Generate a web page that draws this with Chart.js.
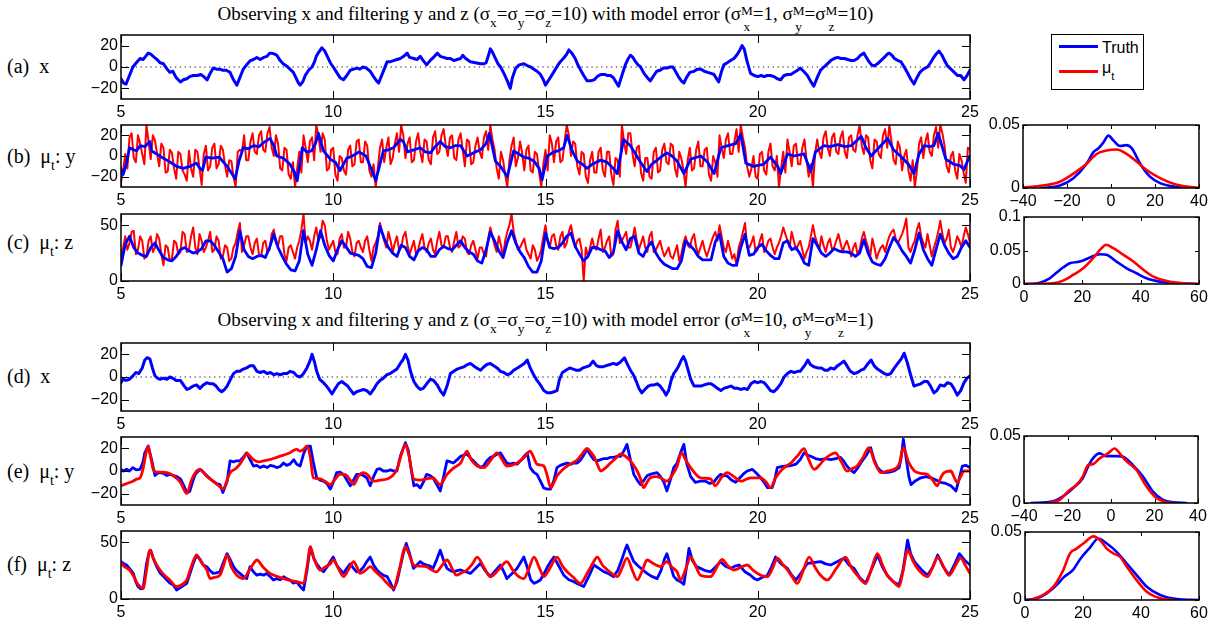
<!DOCTYPE html>
<html>
<head>
<meta charset="utf-8">
<script src="https://cdn.jsdelivr.net/npm/chart.js@4.4.1/dist/chart.umd.min.js"></script>
<style>
  html, body { margin: 0; padding: 0; background: #fff; }
  body { position: relative; width: 1213px; height: 627px; overflow: hidden; font-family: "Liberation Serif", "Times New Roman", serif; color: #000; }
  canvas { position: absolute; }
  .title { position: absolute; left: 121px; width: 849px; text-align: center; font-size: 19px; line-height: 22px; white-space: nowrap; }
  .lab { position: absolute; left: 7px; font-size: 20px; line-height: 24px; white-space: pre; }
  .sb { font-size: 70%; vertical-align: -7px; line-height: 0; }
  .ss { display: inline-flex; flex-direction: column; font-size: 70%; line-height: 1.2; vertical-align: 5px; }
  #lgBox { position: absolute; left: 1051px; top: 34px; width: 93px; height: 56px; box-sizing: border-box; border: 1px solid #000; background: #fff; }
  .lgLine { position: absolute; left: 1059px; width: 39px; height: 3px; }
  .lgText { position: absolute; left: 1102px; font-family: "Liberation Sans", Arial, sans-serif; font-size: 16px; line-height: 18px; }
</style>
</head>
<body>

<div class="title" style="top:3px">Observing x and filtering y and z (σ<span class="sb">x</span>=σ<span class="sb">y</span>=σ<span class="sb">z</span>=10) with model error (σ<span class="ss"><span>M</span><span>x</span></span>=1, σ<span class="ss"><span>M</span><span>y</span></span>=σ<span class="ss"><span>M</span><span>z</span></span>=10)</div>
<div class="title" style="top:309px">Observing x and filtering y and z (σ<span class="sb">x</span>=σ<span class="sb">y</span>=σ<span class="sb">z</span>=10) with model error (σ<span class="ss"><span>M</span><span>x</span></span>=10, σ<span class="ss"><span>M</span><span>y</span></span>=σ<span class="ss"><span>M</span><span>z</span></span>=1)</div>

<div class="lab" style="top:54px">(a)  x</div>
<div class="lab" style="top:144px">(b)  μ<span class="sb">t</span>: y</div>
<div class="lab" style="top:230px">(c)  μ<span class="sb">t</span>: z</div>
<div class="lab" style="top:364px">(d)  x</div>
<div class="lab" style="top:459px">(e)  μ<span class="sb">t</span>: y</div>
<div class="lab" style="top:552px">(f)  μ<span class="sb">t</span>: z</div>

<div id="lgBox"></div>
<div class="lgLine" style="top:45px;background:#0000ff"></div>
<div class="lgLine" style="top:70px;background:#ff0000"></div>
<div class="lgText" style="top:39px">Truth</div>
<div class="lgText" style="top:59px">μ<span class="sb">t</span></div>

<script>
// ---------- tick values ----------
const timeTicks = [5, 10, 15, 20, 25];
const xyTicks = [-20, 0, 20];
const zTicks = [0, 50];
const densYTicksY = [0, 0.05];
const densXTicksY = [-40, -20, 0, 20, 40];
const densXTicksZ = [0, 20, 40, 60];
const densYTicksZ1 = [0, 0.05, 0.1];
const densYTicksZ2 = [0, 0.05];

// ---------- run 1: model error sigma_x^M = 1, sigma_y^M = sigma_z^M = 10 ----------
// truth x, [time, value]
const run1TruthX = [[5.0,-11],[5.06,-15],[5.12,-16],[5.2,-8],[5.28,0],[5.36,4],[5.45,8],[5.52,7],[5.58,10],[5.64,13],[5.7,12],[5.76,10],[5.85,7],[5.92,4],[6.0,3],[6.07,-1],[6.15,-5],[6.22,-4],[6.3,-10],[6.4,-14],[6.47,-12],[6.55,-11],[6.62,-9],[6.7,-8],[6.8,-8],[6.88,-7],[6.95,-9],[7.03,-12],[7.1,-6],[7.17,-1],[7.25,-2],[7.32,-2],[7.4,-3],[7.48,-3],[7.57,-5],[7.65,-12],[7.73,-17],[7.8,-10],[7.88,-2],[7.98,3],[8.05,6],[8.12,7],[8.2,9],[8.28,7],[8.36,9],[8.44,10],[8.5,13],[8.55,13],[8.62,12],[8.67,11],[8.75,6],[8.82,3],[8.9,1],[8.98,-2],[9.06,-5],[9.12,-10],[9.18,-15],[9.22,-17],[9.28,-14],[9.34,-8],[9.42,-3],[9.5,0],[9.56,5],[9.6,10],[9.66,14],[9.73,18],[9.8,15],[9.86,10],[9.93,4],[10.0,0],[10.08,-5],[10.16,-10],[10.24,-12],[10.32,-8],[10.4,-3],[10.48,-2],[10.56,-1],[10.63,-2],[10.7,0],[10.78,-1],[10.87,-4],[10.95,-9],[11.02,-13],[11.07,-15],[11.12,-10],[11.2,-2],[11.27,5],[11.35,5],[11.42,6],[11.5,7],[11.58,8],[11.66,10],[11.74,13],[11.8,9],[11.9,8],[11.97,7],[12.05,10],[12.12,6],[12.2,2],[12.28,6],[12.36,9],[12.45,13],[12.52,10],[12.6,9],[12.68,8],[12.76,8],[12.84,6],[12.92,7],[13.0,8],[13.05,11],[13.12,8],[13.23,5],[13.35,4],[13.47,3],[13.55,3],[13.6,4],[13.65,10],[13.7,17],[13.75,14],[13.82,8],[13.88,3],[13.94,0],[14.02,-6],[14.1,-13],[14.17,-20],[14.22,-10],[14.3,-1],[14.38,2],[14.49,3],[14.58,1],[14.65,0],[14.72,-2],[14.8,-4],[14.88,-7],[14.95,-12],[15.0,-17],[15.08,-12],[15.19,-5],[15.28,1],[15.35,5],[15.42,8],[15.5,12],[15.55,16],[15.62,13],[15.7,8],[15.75,3],[15.83,-3],[15.9,-8],[15.98,-13],[16.06,-13],[16.15,-12],[16.22,-9],[16.3,-7],[16.4,-7],[16.46,-8],[16.53,-8],[16.6,-10],[16.66,-14],[16.72,-18],[16.8,-8],[16.88,2],[16.95,8],[17.0,11],[17.06,9],[17.12,5],[17.18,2],[17.24,0],[17.32,-6],[17.4,-10],[17.47,-13],[17.55,-8],[17.62,-4],[17.7,-3],[17.78,-1],[17.86,-1],[17.93,0],[18.0,0],[18.06,-4],[18.13,-9],[18.2,-13],[18.26,-15],[18.32,-10],[18.4,-5],[18.5,-4],[18.58,-2],[18.66,-2],[18.74,-4],[18.82,-5],[18.9,-6],[18.97,-7],[19.03,-11],[19.08,-14],[19.14,-5],[19.2,2],[19.28,4],[19.36,6],[19.44,8],[19.52,12],[19.58,16],[19.63,20],[19.68,17],[19.75,5],[19.83,-6],[19.92,-8],[20.0,-9],[20.08,-8],[20.15,-9],[20.22,-8],[20.3,-8],[20.38,-9],[20.46,-11],[20.54,-12],[20.62,-8],[20.7,-7],[20.78,-7],[20.86,-5],[20.94,-3],[21.0,-1],[21.08,-4],[21.17,-8],[21.24,-13],[21.32,-18],[21.4,-10],[21.48,-3],[21.56,0],[21.64,3],[21.72,6],[21.8,8],[21.88,9],[21.96,8],[22.04,8],[22.12,7],[22.2,6],[22.27,6],[22.35,8],[22.42,11],[22.5,13],[22.56,9],[22.62,5],[22.68,2],[22.74,1],[22.82,3],[22.9,6],[22.98,9],[23.05,12],[23.1,13],[23.16,11],[23.22,8],[23.3,6],[23.37,5],[23.45,0],[23.52,-5],[23.6,-11],[23.68,-16],[23.75,-10],[23.82,-5],[23.9,-2],[24.0,0],[24.07,4],[24.13,8],[24.2,12],[24.27,15],[24.34,11],[24.4,6],[24.47,1],[24.55,-2],[24.63,-5],[24.71,-8],[24.78,-8],[24.86,-12],[24.93,-8],[25.0,-3]];

// truth y, [time, value]
const run1TruthY = [[5.0,-12],[5.05,-18],[5.13,-7],[5.2,8],[5.3,6],[5.37,5],[5.45,10],[5.56,9],[5.68,14],[5.72,5],[5.84,2],[5.95,-1],[6.08,-4],[6.2,-7],[6.31,-10],[6.47,-12],[6.62,-10],[6.78,-7],[6.86,-12],[6.92,-14],[7.0,-1],[7.15,-2],[7.31,-1],[7.5,-10],[7.69,-22],[7.78,-5],[7.88,8],[8.0,7],[8.12,10],[8.25,9],[8.36,13],[8.51,17],[8.6,10],[8.67,0],[8.82,-2],[8.98,-8],[9.08,-15],[9.15,-24],[9.27,8],[9.37,4],[9.49,5],[9.58,12],[9.65,22],[9.77,5],[9.93,-3],[10.05,-6],[10.16,-14],[10.32,-2],[10.45,0],[10.61,4],[10.77,0],[10.92,-15],[11.0,-24],[11.18,5],[11.3,6],[11.42,8],[11.58,16],[11.65,14],[11.75,4],[11.82,5],[11.9,6],[12.05,8],[12.17,4],[12.29,3],[12.4,9],[12.52,14],[12.64,9],[12.76,8],[12.88,10],[13.0,10],[13.15,0],[13.3,3],[13.47,6],[13.6,12],[13.68,22],[13.82,-5],[13.94,-10],[14.1,-20],[14.25,5],[14.37,2],[14.49,-1],[14.6,-2],[14.73,-5],[14.85,-12],[14.92,-23],[15.04,0],[15.2,4],[15.3,5],[15.43,8],[15.51,20],[15.63,5],[15.75,-5],[15.87,-8],[15.98,-12],[16.1,-8],[16.3,-4],[16.45,-6],[16.6,-12],[16.69,-17],[16.84,16],[17.0,10],[17.12,2],[17.24,-6],[17.39,-15],[17.5,-8],[17.63,-4],[17.75,0],[17.86,3],[17.98,0],[18.1,-5],[18.26,-17],[18.42,-3],[18.58,-1],[18.66,0],[18.82,-6],[18.97,-17],[19.13,8],[19.3,10],[19.48,12],[19.6,21],[19.72,-7],[19.9,-10],[20.0,-9],[20.14,-8],[20.3,-1],[20.47,-10],[20.54,-17],[20.7,2],[20.85,0],[21.09,2],[21.25,-15],[21.36,4],[21.56,10],[21.7,9],[21.89,11],[22.05,9],[22.2,10],[22.44,19],[22.55,8],[22.67,0],[22.85,8],[23.06,17],[23.2,6],[23.36,0],[23.55,-8],[23.68,-17],[23.8,2],[23.92,10],[24.05,9],[24.15,10],[24.25,22],[24.43,-3],[24.62,-8],[24.75,-9],[24.86,-13],[24.95,-4],[25.0,0]];

// filter mean for y at t = 5.0, 5.1, ..., 25.0
const run1MuY = [
  -25, 2, 18, -2, 20, 2, 30, -3, 15, -10,
  8, -15, 3, -22, 2, -18, 5, -20, 4, -28,
  10, -10, 12, -8, 6, -20, -5, -30, 6, 20,
  -4, 22, 2, 24, 4, 28, 0, 12, -14, 6,
  -22, -30, 4, 20, -6, 18, 30, 4, 16, -12,
  8, -24, -2, -18, 10, -8, 16, -6, 10, -20,
  -30, 8, -6, 18, -2, 22, 30, -2, 18, -4,
  22, -6, 14, -8, 24, 4, 26, 0, 20, -4,
  22, -10, 14, -6, 18, -2, 24, 30, 6, -22,
  -4, -30, 10, -10, 14, -14, 10, -16, 2, -30,
  6, 20, -6, 18, -4, 30, 0, 12, -18, 2,
  -26, 4, -16, 8, -20, 4, -28, -4, 30, 2,
  22, -10, 10, -24, -2, -22, 8, -14, 12, -8,
  10, -20, -2, -30, 8, -12, 14, -10, 8, -24,
  -6, 20, -2, 22, 2, 26, 30, 8, -20, 0,
  -22, 4, -18, 12, -14, -30, 4, 16, -10, 12,
  -8, 16, -20, -30, 16, -2, 24, 0, 22, 2,
  24, -2, 20, 4, 30, 2, 18, -12, 14, -2,
  26, 30, -4, 14, -14, 6, -24, -30, 12, -2,
  22, 0, 28, 30, 10, -16, 4, -22, -4, -26,
  6
];
// filter mean for y at the half steps t = 5.05, 5.15, ..., 24.95
const run1MuYHalf = [
  -14, -12, 22, -6, 12, -8, 14, 20, 2, 12,
  -16, 6, -12, 4, -14, -24, -12, 6, -12, 2,
  -14, 8, -12, 10, -9, -4, -20, 4, 4, -4,
  14, 4, 20, 6, 22, 8, 20, -12, 8, -18,
  -6, -12, -16, 8, 14, -4, 20, 22, -14, 6,
  -18, 0, -14, 6, -10, 14, -6, 14, -14, -8,
  -12, 16, 8, -8, 12, 4, 20, 12, -6, 14,
  4, 16, -4, 18, 2, 20, 10, 18, -2, 16,
  6, 16, -8, 10, 4, 18, 6, 16, -12, 4,
  -18, -4, 18, -2, 3, 6, -14, 4, -16, -8,
  -14, 12, 14, -6, 14, 20, 14, -10, 4, -20,
  -4, -16, 4, -14, 4, -18, -2, -20, 14, 22,
  2, 8, -16, -2, -20, 4, -16, 6, -6, 12,
  -12, 4, -14, -4, -14, 6, -10, 6, -18, 0,
  -20, 8, 16, 2, 14, 4, 18, -10, -12, -20,
  2, -14, 4, -10, 0, -12, -16, 4, 10, -8,
  8, -4, -8, 2, 4, 18, 8, 18, 4, 18,
  4, 18, 6, 20, 10, 20, -4, 16, 2, 20,
  8, 14, -8, 8, 0, -14, -4, -14, 18, 14,
  4, 20, 8, 22, -10, 0, -14, 2, -16, 8
];

// truth z at t = 5.0, 5.1, ..., 25.0
const run1TruthZ = [
  14, 33, 40, 30, 25, 23, 22, 30, 34, 27,
  21, 19, 18, 22, 28, 30, 27, 25, 26, 29,
  36, 36, 32, 26, 20, 8, 11, 22, 45, 28,
  22, 20, 22, 23, 21, 30, 42, 30, 22, 15,
  10, 9, 18, 45, 24, 14, 28, 45, 32, 23,
  18, 28, 36, 31, 25, 24, 23, 20, 13, 12,
  25, 49, 38, 30, 25, 22, 32, 30, 22, 19,
  27, 30, 28, 22, 22, 28, 31, 29, 28, 32,
  36, 30, 26, 24, 18, 16, 28, 44, 36, 27,
  21, 35, 45, 34, 26, 21, 13, 8, 8, 18,
  43, 30, 29, 30, 34, 40, 43, 31, 24, 18,
  22, 30, 30, 28, 27, 21, 26, 45, 35, 28,
  38, 40, 25, 22, 30, 35, 25, 19, 15, 13,
  11, 11, 18, 36, 32, 28, 22, 19, 19, 19,
  35, 42, 22, 16, 14, 14, 30, 42, 23, 24,
  30, 33, 27, 23, 20, 20, 34, 36, 28, 30,
  24, 16, 14, 38, 32, 25, 22, 25, 29, 27,
  26, 26, 25, 22, 25, 37, 25, 17, 15, 14,
  20, 30, 39, 34, 27, 22, 16, 28, 43, 28,
  20, 14, 28, 42, 32, 25, 20, 22, 30, 36,
  30
];

// filter mean for z at t = 5.0, 5.1, ..., 25.0
const run1MuZ = [
  22, 40, 34, 45, 28, 36, 22, 40, 30, 38,
  14, 30, 20, 34, 26, 42, 28, 48, 24, 36,
  30, 44, 28, 36, 22, 30, 20, 34, 52, 32,
  40, 24, 38, 22, 36, 28, 46, 32, 40, 18,
  32, 20, 36, 60, 40, 28, 48, 40, 50, 28,
  36, 24, 42, 30, 38, 22, 36, 26, 40, 18,
  34, 52, 36, 44, 26, 40, 30, 44, 24, 36,
  28, 42, 26, 38, 24, 44, 30, 40, 26, 44,
  32, 38, 24, 36, 20, 30, 22, 48, 32, 40,
  22, 44, 60, 36, 30, 38, 24, 32, 18, 28,
  50, 30, 42, 28, 44, 34, 50, 30, 38, 0,
  22, 38, 28, 46, 30, 40, 24, 54, 36, 44,
  30, 48, 28, 40, 26, 44, 28, 36, 22, 30,
  20, 32, 24, 40, 30, 42, 24, 36, 22, 34,
  44, 50, 30, 36, 20, 14, 36, 52, 30, 40,
  28, 42, 30, 38, 24, 34, 48, 36, 44, 28,
  36, 20, 30, 50, 34, 40, 26, 38, 30, 42,
  26, 36, 22, 34, 28, 44, 30, 38, 20, 30,
  26, 40, 46, 34, 42, 56, 26, 36, 52, 34,
  42, 22, 36, 54, 34, 46, 26, 40, 30, 48,
  34
];
// filter mean for z at the half steps t = 5.05, 5.15, ..., 24.95
const run1MuZHalf = [
  30, 28, 44, 24, 40, 20, 36, 26, 42, 24,
  32, 18, 36, 24, 44, 26, 40, 30, 42, 26,
  36, 26, 40, 20, 32, 18, 30, 44, 26, 40,
  30, 34, 24, 34, 26, 42, 34, 40, 24, 30,
  26, 30, 46, 34, 36, 40, 36, 54, 36, 32,
  26, 38, 30, 44, 26, 34, 30, 36, 28, 30,
  40, 44, 30, 36, 34, 28, 40, 32, 30, 24,
  36, 30, 34, 28, 36, 32, 40, 30, 36, 30,
  40, 26, 32, 28, 30, 24, 38, 40, 26, 32,
  36, 50, 44, 28, 34, 28, 20, 28, 22, 40,
  36, 40, 32, 40, 30, 44, 40, 36, 28, 30,
  30, 30, 38, 26, 36, 22, 46, 34, 40, 30,
  38, 36, 34, 30, 40, 26, 32, 28, 26, 22,
  26, 18, 34, 32, 38, 30, 30, 28, 28, 40,
  36, 40, 26, 28, 24, 30, 44, 30, 34, 26,
  36, 26, 36, 30, 30, 40, 42, 30, 36, 32,
  28, 26, 40, 40, 28, 32, 34, 28, 36, 34,
  32, 30, 30, 24, 38, 36, 22, 30, 26, 32,
  34, 44, 38, 38, 48, 30, 32, 46, 40, 30,
  32, 30, 44, 42, 38, 30, 32, 36, 40, 42
];

// densities, [value, density]
const run1DensTruthY = [[-31.5,0],[-23.2,0.002],[-17.1,0.0078],[-11,0.0195],[-8,0.0285],[-5.7,0.0315],[-3.5,0.036],[-1.2,0.0416],[1.1,0.0377],[4.1,0.0333],[7.1,0.034],[9.4,0.0316],[13.2,0.0195],[17.7,0.009],[22.3,0.0039],[29.8,0.0008],[37.4,0]];
const run1DensMuY = [[-40,0.0003],[-30.9,0.002],[-23.3,0.005],[-15.8,0.013],[-11,0.0195],[-6.5,0.027],[-2,0.0297],[2.6,0.0305],[7.1,0.027],[11.7,0.0208],[16.2,0.0143],[22.3,0.0078],[29.8,0.0026],[40,0.0002]];
const run1DensTruthZ = [[0,0],[5.4,0.002],[8.8,0.0085],[12.3,0.021],[15.7,0.031],[19.2,0.0335],[22.6,0.0395],[26.0,0.0445],[28.3,0.0435],[31.7,0.0335],[35.2,0.0235],[38.6,0.016],[42,0.0085],[46.6,0.0035],[52.3,0.001],[60,0]];
const run1DensMuZ = [[0,0],[9.9,0.001],[13.4,0.005],[16.8,0.0135],[20.3,0.0235],[23.7,0.0385],[26.6,0.0535],[28.1,0.0585],[30.6,0.0535],[34.1,0.0435],[37.5,0.0335],[41,0.021],[44.4,0.011],[49,0.0045],[54.7,0.001],[60,0]];

// ---------- run 2: model error sigma_x^M = 10, sigma_y^M = sigma_z^M = 1 ----------
const run2TruthX = [[5.0,-5],[5.05,-2],[5.12,-3],[5.2,-2],[5.28,1],[5.35,4],[5.42,3],[5.5,8],[5.56,15],[5.62,17],[5.68,16],[5.74,8],[5.8,1],[5.86,-1],[5.92,-2],[6.0,-1],[6.08,-2],[6.15,0],[6.22,-1],[6.3,-3],[6.4,-3],[6.47,-7],[6.55,-11],[6.62,-10],[6.7,-8],[6.78,-7],[6.86,-10],[6.94,-7],[7.02,-5],[7.1,-6],[7.17,-6],[7.24,-8],[7.3,-11],[7.37,-13],[7.44,-11],[7.5,-8],[7.58,-2],[7.65,3],[7.72,5],[7.8,5],[7.88,7],[7.96,8],[8.04,10],[8.12,10],[8.2,5],[8.28,4],[8.36,5],[8.44,3],[8.52,4],[8.6,2],[8.67,3],[8.75,2],[8.83,3],[8.91,3],[8.98,5],[9.07,4],[9.14,1],[9.22,0],[9.3,3],[9.38,8],[9.45,14],[9.5,20],[9.56,13],[9.61,5],[9.68,-2],[9.77,-5],[9.84,-8],[9.9,-11],[9.97,-15],[10.05,-10],[10.12,-6],[10.2,-4],[10.27,-6],[10.34,-8],[10.42,-12],[10.48,-15],[10.55,-13],[10.63,-12],[10.71,-11],[10.79,-12],[10.87,-15],[10.95,-11],[11.03,-6],[11.1,-3],[11.18,-1],[11.26,2],[11.34,3],[11.42,5],[11.5,7],[11.58,12],[11.64,15],[11.7,20],[11.76,15],[11.82,5],[11.9,-4],[11.97,-8],[12.05,-11],[12.12,-10],[12.2,-6],[12.29,-2],[12.36,-3],[12.45,-7],[12.52,-12],[12.6,-16],[12.68,-8],[12.76,3],[12.84,5],[12.92,7],[13.0,8],[13.08,9],[13.16,11],[13.23,12],[13.3,10],[13.38,8],[13.47,6],[13.55,9],[13.62,11],[13.7,12],[13.78,10],[13.86,8],[13.94,5],[14.02,4],[14.1,2],[14.17,3],[14.25,6],[14.34,8],[14.42,10],[14.5,12],[14.57,15],[14.64,8],[14.72,2],[14.8,-3],[14.88,-7],[14.96,-12],[15.04,-14],[15.12,-14],[15.2,-13],[15.27,-12],[15.33,-2],[15.4,4],[15.48,6],[15.57,8],[15.65,7],[15.72,6],[15.8,6],[15.88,8],[15.96,9],[16.04,10],[16.12,14],[16.2,10],[16.27,9],[16.35,9],[16.43,10],[16.52,11],[16.6,12],[16.68,11],[16.76,13],[16.86,17],[16.92,12],[17.0,6],[17.07,2],[17.14,-4],[17.2,-10],[17.27,-14],[17.34,-11],[17.42,-8],[17.5,-7],[17.56,-7],[17.63,-6],[17.7,-8],[17.78,-12],[17.84,-16],[17.9,-12],[17.96,-3],[18.02,3],[18.08,6],[18.14,10],[18.2,15],[18.25,18],[18.3,14],[18.36,6],[18.42,-2],[18.5,-8],[18.58,-8],[18.66,-8],[18.74,-7],[18.82,-6],[18.9,-6],[18.98,-8],[19.05,-10],[19.13,-12],[19.2,-10],[19.29,-9],[19.37,-8],[19.45,-10],[19.53,-10],[19.6,-11],[19.68,-10],[19.76,-11],[19.84,-6],[19.92,-4],[20.0,-5],[20.08,-4],[20.15,-5],[20.22,-8],[20.3,-12],[20.38,-13],[20.46,-10],[20.54,-6],[20.62,0],[20.7,3],[20.78,5],[20.86,4],[20.94,5],[21.0,5],[21.06,8],[21.12,11],[21.18,15],[21.24,11],[21.32,9],[21.41,8],[21.5,8],[21.58,6],[21.65,6],[21.72,8],[21.8,7],[21.88,10],[21.96,12],[22.03,14],[22.1,10],[22.18,5],[22.27,3],[22.35,4],[22.43,6],[22.5,7],[22.58,11],[22.67,15],[22.74,10],[22.82,7],[22.9,5],[22.98,3],[23.06,2],[23.13,3],[23.22,8],[23.3,12],[23.38,16],[23.45,21],[23.52,13],[23.6,2],[23.68,-8],[23.76,-7],[23.84,-6],[23.92,-4],[24.0,-4],[24.07,-8],[24.15,-14],[24.22,-12],[24.3,-7],[24.39,-8],[24.47,-5],[24.55,-6],[24.62,-10],[24.7,-16],[24.78,-12],[24.86,-5],[24.93,-1],[25.0,1]];

const run2TruthY = [[5.0,1.5],[5.06,0],[5.13,1.5],[5.2,0],[5.28,3],[5.36,1],[5.45,1.5],[5.52,8],[5.56,16],[5.64,22],[5.72,10],[5.8,-4],[5.86,-2],[5.92,-1.5],[6.0,-2],[6.08,-4],[6.15,-3],[6.23,-4],[6.32,-5],[6.4,-7],[6.48,-13],[6.55,-19],[6.62,-18],[6.7,-8],[6.75,-3],[6.86,1.5],[6.94,-1],[7.02,-4],[7.1,-7],[7.17,-9],[7.25,-11],[7.33,-12],[7.4,-19],[7.5,-9],[7.57,9],[7.65,8],[7.72,9],[7.8,9],[7.88,12],[7.96,16],[8.04,10],[8.12,4.4],[8.2,5],[8.28,3],[8.36,4.4],[8.44,3],[8.52,5],[8.59,4.4],[8.67,3],[8.75,4],[8.83,7],[8.9,5],[8.98,6],[9.07,10],[9.14,6],[9.22,4.4],[9.3,15],[9.38,22],[9.46,22],[9.53,8],[9.61,-6],[9.69,-8],[9.77,-9],[9.85,-11],[9.93,-16],[10.0,-10],[10.08,-1.5],[10.16,-1],[10.24,-3],[10.32,-8],[10.4,-13],[10.48,-8],[10.55,-3],[10.63,-3],[10.71,-4],[10.79,-6],[10.87,-13],[10.95,-5],[11.03,1.5],[11.1,2],[11.18,0],[11.27,0],[11.35,1],[11.42,0],[11.5,0],[11.58,13],[11.65,20],[11.7,25],[11.77,18],[11.82,5],[11.9,-13],[11.97,-12],[12.05,-15],[12.12,-10],[12.2,-3],[12.28,-4],[12.35,-6],[12.44,-12],[12.52,-17.6],[12.6,-5],[12.68,9],[12.76,8],[12.83,7],[12.92,10],[13.0,13],[13.08,14],[13.15,15],[13.22,12],[13.3,9],[13.38,6],[13.47,3],[13.55,5],[13.62,9],[13.7,12],[13.78,13],[13.86,15],[13.94,16],[14.02,11],[14.09,7],[14.17,6],[14.25,7],[14.33,6],[14.41,9],[14.5,13],[14.57,16],[14.64,3],[14.72,-1],[14.8,-3],[14.88,-9],[14.96,-15],[15.04,-16],[15.12,-16],[15.2,-8],[15.27,3],[15.35,5],[15.43,6],[15.51,7],[15.6,6],[15.67,7],[15.75,7],[15.83,10],[15.9,14],[15.98,19],[16.06,14],[16.14,10],[16.22,9],[16.3,10],[16.38,11],[16.46,11],[16.53,12],[16.61,12],[16.69,13],[16.77,13],[16.85,18],[16.92,23.5],[17.0,10],[17.08,-3],[17.16,-8],[17.24,-12],[17.32,-8],[17.4,-4],[17.47,-3],[17.55,-2],[17.63,-1.5],[17.71,-5],[17.79,-10],[17.86,-17.6],[17.94,-8],[18.02,3],[18.1,7],[18.18,16],[18.26,23.5],[18.33,6],[18.42,-5],[18.53,-10],[18.65,-9],[18.77,-9],[18.87,-11],[18.96,-10],[19.04,-6],[19.12,-3],[19.2,-4],[19.28,-4.4],[19.38,-8],[19.48,-10],[19.58,-6],[19.68,-2],[19.75,0],[19.87,1.5],[19.97,-2],[20.07,-6],[20.15,-10],[20.23,-14.7],[20.34,-14.7],[20.4,-8],[20.46,3],[20.58,4],[20.7,4.4],[20.8,5],[20.9,6],[21.0,10],[21.09,16],[21.17,14],[21.25,13],[21.36,11],[21.48,10],[21.6,11],[21.72,10],[21.84,11],[21.95,12],[22.02,9],[22.1,4.4],[22.18,1],[22.27,-1.5],[22.36,3],[22.46,9],[22.56,14],[22.66,20.5],[22.74,10],[22.82,3],[22.9,0],[22.98,-1.5],[23.1,-1],[23.21,0],[23.33,3],[23.38,12],[23.43,28],[23.5,10],[23.56,-5],[23.61,-12],[23.7,-9],[23.84,-6],[23.96,-5],[24.08,-6],[24.2,-8],[24.31,-10],[24.43,-11],[24.55,-13],[24.67,-17.6],[24.75,-6],[24.82,4.4],[24.9,5],[25.0,3]];

const run2MuY = [[5.0,-13],[5.14,-11],[5.28,-9],[5.38,-7],[5.45,-6],[5.52,2],[5.58,14],[5.64,22],[5.7,12],[5.76,1.5],[5.84,-1],[5.92,-1],[6.08,-1.5],[6.23,-4],[6.4,-10],[6.55,-20],[6.66,-8],[6.78,0],[6.86,1.5],[7.0,-4],[7.17,-9],[7.3,-13],[7.41,-16],[7.5,-8],[7.57,-1.5],[7.7,2],[7.8,6],[7.9,12],[7.96,16],[8.04,13],[8.12,10],[8.25,8],[8.36,9],[8.5,10],[8.67,12],[8.83,14],[8.98,16],[9.06,18],[9.14,19],[9.22,17.6],[9.3,19],[9.38,22],[9.46,12],[9.53,-6],[9.69,-7],[9.8,-9],[9.93,-12],[10.05,-7],[10.16,-3],[10.24,-3],[10.32,-4],[10.4,-8],[10.48,-12],[10.6,-4],[10.71,-1.5],[10.8,-3],[10.95,-9],[11.1,-8],[11.27,-7],[11.4,-4],[11.5,1.5],[11.6,14],[11.7,23.5],[11.78,14],[11.9,-7],[12.05,-8],[12.2,-7],[12.35,-6],[12.52,-12],[12.68,-3],[12.85,3],[13.0,7],[13.15,17.6],[13.25,10],[13.39,4.4],[13.55,3],[13.7,9],[13.86,16],[13.98,10],[14.09,4.4],[14.2,5],[14.33,7],[14.5,12],[14.64,17.6],[14.72,12],[14.8,6],[14.96,4.4],[15.04,-4],[15.12,-14.7],[15.2,-10],[15.27,-4.4],[15.4,1],[15.51,4.4],[15.63,7],[15.75,10],[15.88,16],[15.98,20],[16.06,17],[16.14,13],[16.22,6],[16.3,0],[16.42,3],[16.53,7],[16.65,11],[16.77,15],[16.88,13],[17.0,9],[17.16,0],[17.24,-7],[17.31,-14.7],[17.39,-10],[17.47,-6],[17.6,-5],[17.71,-6],[17.86,-9],[17.98,-4],[18.1,4],[18.2,16],[18.3,10],[18.42,3],[18.65,-6],[18.89,-7],[19.0,-13],[19.14,-6],[19.28,-1.5],[19.44,-5],[19.6,-9],[19.83,-6],[20.07,-6],[20.2,-10],[20.3,-14.7],[20.42,-6],[20.54,0],[20.66,4],[20.78,7],[20.95,14],[21.09,19.7],[21.2,10],[21.33,1.5],[21.45,5],[21.56,10],[21.7,14],[21.83,16],[21.97,8],[22.1,0],[22.22,2],[22.34,4.4],[22.48,12],[22.62,20.5],[22.75,8],[22.9,-1.5],[23.05,0],[23.21,1.5],[23.33,6],[23.43,20.5],[23.55,8],[23.69,0],[23.84,-2],[24.0,-3],[24.12,-8],[24.23,-13],[24.31,-6],[24.39,-1.5],[24.55,0],[24.62,-5],[24.7,-10],[24.78,-5],[24.86,0],[25.0,0]];

const run2TruthZ = [[5.0,33],[5.07,31],[5.13,30],[5.2,27],[5.29,22.6],[5.35,15],[5.4,11],[5.46,9],[5.52,9.4],[5.56,20],[5.6,31],[5.66,41],[5.7,43],[5.76,36],[5.84,28.5],[5.92,23],[6.0,20],[6.08,16.8],[6.15,14],[6.23,12.3],[6.31,8],[6.4,10],[6.48,12],[6.55,13.8],[6.62,22],[6.7,31],[6.78,38.8],[6.86,35],[6.94,30],[7.02,28.5],[7.1,25],[7.17,22.6],[7.25,23],[7.33,24],[7.42,33],[7.5,40],[7.57,35],[7.65,28.5],[7.72,25],[7.8,22.6],[7.88,20],[7.96,18],[8.04,28.5],[8.12,24],[8.2,21],[8.28,22],[8.36,21],[8.43,22.6],[8.51,20],[8.59,16.8],[8.67,18],[8.75,17],[8.83,19.7],[8.9,18],[8.98,16.8],[9.06,14],[9.14,15],[9.22,11],[9.3,8],[9.38,25],[9.46,46],[9.54,36],[9.61,31],[9.69,27],[9.77,24],[9.85,28],[9.93,33],[10.0,37],[10.08,30],[10.16,26],[10.24,22.6],[10.32,27],[10.4,31],[10.48,27],[10.55,24],[10.63,25],[10.71,28],[10.79,33],[10.87,37],[10.95,30],[11.03,25.6],[11.1,23],[11.18,21],[11.27,19.7],[11.35,14],[11.42,8],[11.5,15],[11.58,28.5],[11.65,40],[11.72,49],[11.8,40],[11.89,27],[11.97,30],[12.05,33],[12.12,31],[12.2,30],[12.28,29],[12.35,27],[12.44,35],[12.52,43],[12.6,34],[12.68,27],[12.76,25],[12.83,24],[12.92,25],[13.0,25.6],[13.12,24],[13.23,22.6],[13.35,27],[13.47,31.5],[13.58,25],[13.7,19.7],[13.82,25],[13.94,30],[14.02,24],[14.09,18],[14.2,22],[14.33,27],[14.41,32],[14.49,37],[14.57,28],[14.65,17],[14.73,13.8],[14.8,15],[14.88,16.8],[14.96,22],[15.04,28],[15.12,33],[15.2,37],[15.3,30],[15.43,21],[15.55,17],[15.67,15.3],[15.78,13],[15.9,11],[16.02,20],[16.14,30],[16.26,27],[16.38,24],[16.5,22],[16.6,19.7],[16.7,25],[16.8,35],[16.88,44],[16.92,47.6],[17.0,40],[17.08,33],[17.16,30],[17.28,26],[17.39,22.6],[17.5,20],[17.63,18],[17.72,25],[17.8,35],[17.86,40],[17.94,30],[18.02,20],[18.1,16.8],[18.18,15.3],[18.26,13],[18.32,28],[18.38,44.7],[18.46,34],[18.55,29],[18.65,27],[18.77,25],[18.89,24],[19.0,28],[19.12,33],[19.24,29],[19.36,27],[19.46,29],[19.56,30],[19.7,24],[19.83,21],[19.92,18],[19.99,16.8],[20.1,19],[20.23,21],[20.32,28],[20.42,37],[20.55,31],[20.7,27],[20.8,21],[20.9,16.8],[21.04,24],[21.17,31.5],[21.3,32],[21.48,33],[21.6,31],[21.72,30],[21.88,33],[22.03,36],[22.15,30],[22.27,27],[22.4,19],[22.54,13.8],[22.68,26],[22.82,38.8],[22.94,28],[23.05,21],[23.2,15],[23.33,12.3],[23.42,25],[23.53,52],[23.6,40],[23.69,33],[23.85,26],[24.0,21],[24.12,28],[24.24,38.8],[24.38,28],[24.51,21],[24.63,30],[24.75,40],[24.88,34],[25.0,30]];

const run2MuZ = [[5.0,31.5],[5.1,28],[5.2,25.6],[5.3,20],[5.38,14],[5.45,11],[5.52,9.4],[5.6,25],[5.68,43],[5.76,36],[5.84,30],[5.92,25.6],[6.05,20],[6.15,16.8],[6.31,11],[6.45,13],[6.55,16.8],[6.65,28],[6.78,38.8],[6.9,32],[7.02,25.6],[7.1,18],[7.2,19],[7.33,21],[7.42,30],[7.5,38.8],[7.6,28],[7.73,21],[7.88,18],[8.0,24],[8.1,30],[8.2,34.4],[8.35,28],[8.51,22.6],[8.67,20],[8.83,18],[8.98,16.5],[9.14,15.3],[9.3,13.8],[9.38,28],[9.46,46],[9.55,35],[9.69,25.6],[9.8,28],[9.93,31],[10.0,34.4],[10.12,27],[10.24,19.7],[10.36,26],[10.48,33],[10.56,28],[10.63,22.6],[10.75,25],[10.87,28.5],[11.0,24],[11.15,19],[11.27,13.8],[11.42,9.4],[11.55,25],[11.7,46],[11.8,38],[11.89,30],[12.05,29],[12.2,28.5],[12.3,26],[12.43,24],[12.55,29],[12.68,34.4],[12.8,27],[12.9,21],[13.02,23],[13.15,25.6],[13.28,31],[13.39,37],[13.55,28],[13.7,19.7],[13.9,26],[14.09,33],[14.22,26],[14.33,21],[14.49,18],[14.6,26],[14.73,37],[14.85,28],[14.96,19.7],[15.1,27],[15.27,37],[15.4,29],[15.51,24],[15.66,19],[15.82,13.8],[16.0,24],[16.12,32],[16.22,37],[16.34,30],[16.46,25.6],[16.58,22],[16.69,19.7],[16.8,27],[16.92,36],[17.04,26],[17.16,16.8],[17.28,25],[17.39,34.4],[17.55,31],[17.71,28.5],[17.86,33],[17.98,28],[18.1,24],[18.18,16.8],[18.3,26],[18.42,37],[18.55,28],[18.65,21],[18.89,19.7],[19.02,27],[19.16,35],[19.3,29],[19.44,25.6],[19.6,28],[19.75,30],[19.9,25],[20.07,21],[20.23,19.7],[20.35,27],[20.46,36],[20.58,31],[20.7,25.6],[20.82,19],[20.93,13.8],[21.07,25],[21.21,37],[21.35,28],[21.48,21],[21.64,16.8],[21.85,27],[22.07,37],[22.2,28],[22.34,21],[22.54,13.8],[22.68,27],[22.82,40],[22.94,30],[23.05,21],[23.2,15],[23.33,11],[23.43,26],[23.53,43],[23.65,34],[23.76,27],[24.0,19.7],[24.12,28],[24.24,37],[24.38,28],[24.51,21],[24.65,29],[24.78,36],[24.9,29],[25.0,22.6]];

const run2DensTruthY = [[-36.6,0],[-26.7,0.0012],[-22.1,0.0049],[-17.5,0.011],[-13,0.0185],[-10.6,0.027],[-8.3,0.0333],[-5.2,0.037],[-2.1,0.035],[2.5,0.035],[5.5,0.0345],[10.1,0.0283],[14.7,0.0197],[19.3,0.0086],[23.9,0.0024],[28.5,0.0005],[34.6,0]];
const run2DensMuY = [[-29,0],[-23.6,0.0024],[-19,0.0098],[-15.9,0.0135],[-13,0.0197],[-10.6,0.0283],[-8.3,0.029],[-5.2,0.0333],[-1.4,0.037],[1.7,0.0407],[4,0.037],[6.6,0.032],[11.7,0.0246],[16.3,0.0123],[20.9,0.0037],[25.5,0.0005],[28.5,0]];
const run2DensTruthZ = [[0,0],[4,0.0012],[7.5,0.0049],[10.9,0.011],[13.5,0.017],[16.5,0.022],[19,0.03],[22.4,0.0385],[25.3,0.0452],[28.2,0.0415],[31.6,0.0354],[35.1,0.0268],[38.5,0.0183],[42,0.0098],[46.6,0.0037],[52.3,0.0007],[60,0]];
const run2DensMuZ = [[1.7,0],[6.3,0.0037],[9.8,0.0098],[13.2,0.022],[15.5,0.0342],[17.8,0.0378],[20.1,0.0415],[23.6,0.0468],[25.9,0.0439],[28.2,0.0378],[30.5,0.0342],[32.8,0.0317],[35.1,0.0244],[38.5,0.0146],[42,0.006],[46.6,0.0012],[51.2,0]];

// ---------- helpers ----------
const BLUE = '#0000ff', RED = '#ff0000';
const gridStart = 5;
const pairs = arr => arr.map(([x, y]) => ({ x, y }));
const onGrid = (vals, step) => vals.map((v, i) => ({ x: +(gridStart + i * step).toFixed(3), y: v }));
// merge whole-step and half-step samples into one time-ordered sequence
const merge = (whole, half) => whole.flatMap((v, i) => i < half.length ? [v, half[i]] : [v]);
const fmt = v => String(v).replace('-', '\u2212');
const tickFont = { family: '"Liberation Sans", Arial, Helvetica, sans-serif', size: 16 };

// box frame with inward tick marks on all four sides
const boxTicks = {
  id: 'boxTicks',
  afterDatasetsDraw(chart, args, opts) {
    const { ctx, chartArea: a, scales } = chart;
    const len = opts.len || 7;
    ctx.save();
    ctx.strokeStyle = '#000';
    ctx.lineWidth = 1;
    ctx.beginPath();
    scales.x.ticks.forEach(t => {
      const px = Math.round(scales.x.getPixelForValue(t.value)) + 0.5;
      ctx.moveTo(px, a.top); ctx.lineTo(px, a.top + len);
      ctx.moveTo(px, a.bottom); ctx.lineTo(px, a.bottom - len);
    });
    scales.y.ticks.forEach(t => {
      const py = Math.round(scales.y.getPixelForValue(t.value)) + 0.5;
      ctx.moveTo(a.left, py); ctx.lineTo(a.left + len, py);
      ctx.moveTo(a.right, py); ctx.lineTo(a.right - len, py);
    });
    ctx.stroke();
    ctx.lineWidth = 1.5;
    ctx.strokeRect(a.left, a.top, a.right - a.left, a.bottom - a.top);
    ctx.restore();
  }
};

function line(data, color, width, extra) {
  return Object.assign({
    data, borderColor: color, backgroundColor: color, borderWidth: width,
    pointRadius: 0, fill: false, tension: 0, clip: 0,
    borderJoinStyle: 'round', borderCapStyle: 'round'
  }, extra || {});
}

function zeroLine() {
  return line(pairs([[5, 0], [25, 0]]), '#6a6a6a', 1.3, { borderDash: [1.3, 3.6], borderCapStyle: 'butt' });
}

// rect = [left, top, right, bottom] of the plotting box in page pixels
function panel(rect, xr, yr, xt, yt, datasets, tickLen) {
  const padT = 15, padR = 24, yW = 70, xH = 30;
  const W = rect[2] - rect[0], H = rect[3] - rect[1];
  const cv = document.createElement('canvas');
  cv.width = yW + W + padR;
  cv.height = padT + H + xH;
  cv.style.left = (rect[0] - yW) + 'px';
  cv.style.top = (rect[1] - padT) + 'px';
  document.body.appendChild(cv);
  return new Chart(cv, {
    type: 'line',
    data: { datasets },
    options: {
      responsive: false, animation: false, events: [],
      layout: { padding: { left: 0, top: padT, right: padR, bottom: 0 } },
      plugins: { legend: { display: false }, tooltip: { enabled: false }, boxTicks: { len: tickLen } },
      scales: {
        x: {
          type: 'linear', min: xr[0], max: xr[1],
          grid: { display: false, drawTicks: false }, border: { display: false },
          afterBuildTicks: s => { s.ticks = xt.map(v => ({ value: v })); },
          afterFit: s => { s.height = xH; },
          ticks: { padding: 4, autoSkip: false, maxRotation: 0, color: '#000', font: tickFont, callback: fmt }
        },
        y: {
          type: 'linear', min: yr[0], max: yr[1],
          grid: { display: false, drawTicks: false }, border: { display: false },
          afterBuildTicks: s => { s.ticks = yt.map(v => ({ value: v })); },
          afterFit: s => { s.width = yW; },
          ticks: { padding: 3, autoSkip: false, color: '#000', font: tickFont, callback: fmt }
        }
      }
    },
    plugins: [boxTicks]
  });
}

const smooth = { cubicInterpolationMode: 'monotone' };
const dens = (data, color) => line(pairs(data), color, 2.6, smooth);

// ---------- run 1 panels ----------
panel([121, 35, 970, 99], [5, 25], [-30, 30], timeTicks, xyTicks,
  [line(pairs(run1TruthX), BLUE, 3), zeroLine()], 8);
panel([121, 125, 970, 187], [5, 25], [-30, 30], timeTicks, xyTicks,
  [line(pairs(run1TruthY), BLUE, 2.8), line(onGrid(merge(run1MuY, run1MuYHalf), 0.05), RED, 2)], 8);
panel([121, 214, 970, 281], [5, 25], [0, 60], timeTicks, zTicks,
  [line(onGrid(run1TruthZ, 0.1), BLUE, 2.8), line(onGrid(merge(run1MuZ, run1MuZHalf), 0.05), RED, 2)], 8);

panel([1023, 125, 1199, 188], [-40, 40], [0, 0.05], densXTicksY, densYTicksY,
  [dens(run1DensMuY, RED), dens(run1DensTruthY, BLUE)], 4);
panel([1024, 217, 1199, 284], [0, 60], [0, 0.1], densXTicksZ, densYTicksZ1,
  [dens(run1DensMuZ, RED), dens(run1DensTruthZ, BLUE)], 4);

// ---------- run 2 panels ----------
panel([121, 343, 970, 411], [5, 25], [-30, 30], timeTicks, xyTicks,
  [line(pairs(run2TruthX), BLUE, 3), zeroLine()], 8);
panel([121, 437, 970, 505], [5, 25], [-30, 30], timeTicks, xyTicks,
  [line(pairs(run2MuY), RED, 2.8, smooth), line(pairs(run2TruthY), BLUE, 2.8)], 8);
panel([121, 531, 970, 599], [5, 25], [0, 60], timeTicks, zTicks,
  [line(pairs(run2MuZ), RED, 2.8, smooth), line(pairs(run2TruthZ), BLUE, 2.8)], 8);

panel([1024, 436, 1198, 503], [-40, 40], [0, 0.05], densXTicksY, densYTicksY,
  [dens(run2DensMuY, RED), dens(run2DensTruthY, BLUE)], 4);
panel([1025, 532, 1199, 600], [0, 60], [0, 0.05], densXTicksZ, densYTicksZ2,
  [dens(run2DensMuZ, RED), dens(run2DensTruthZ, BLUE)], 4);
</script>
</body>
</html>
